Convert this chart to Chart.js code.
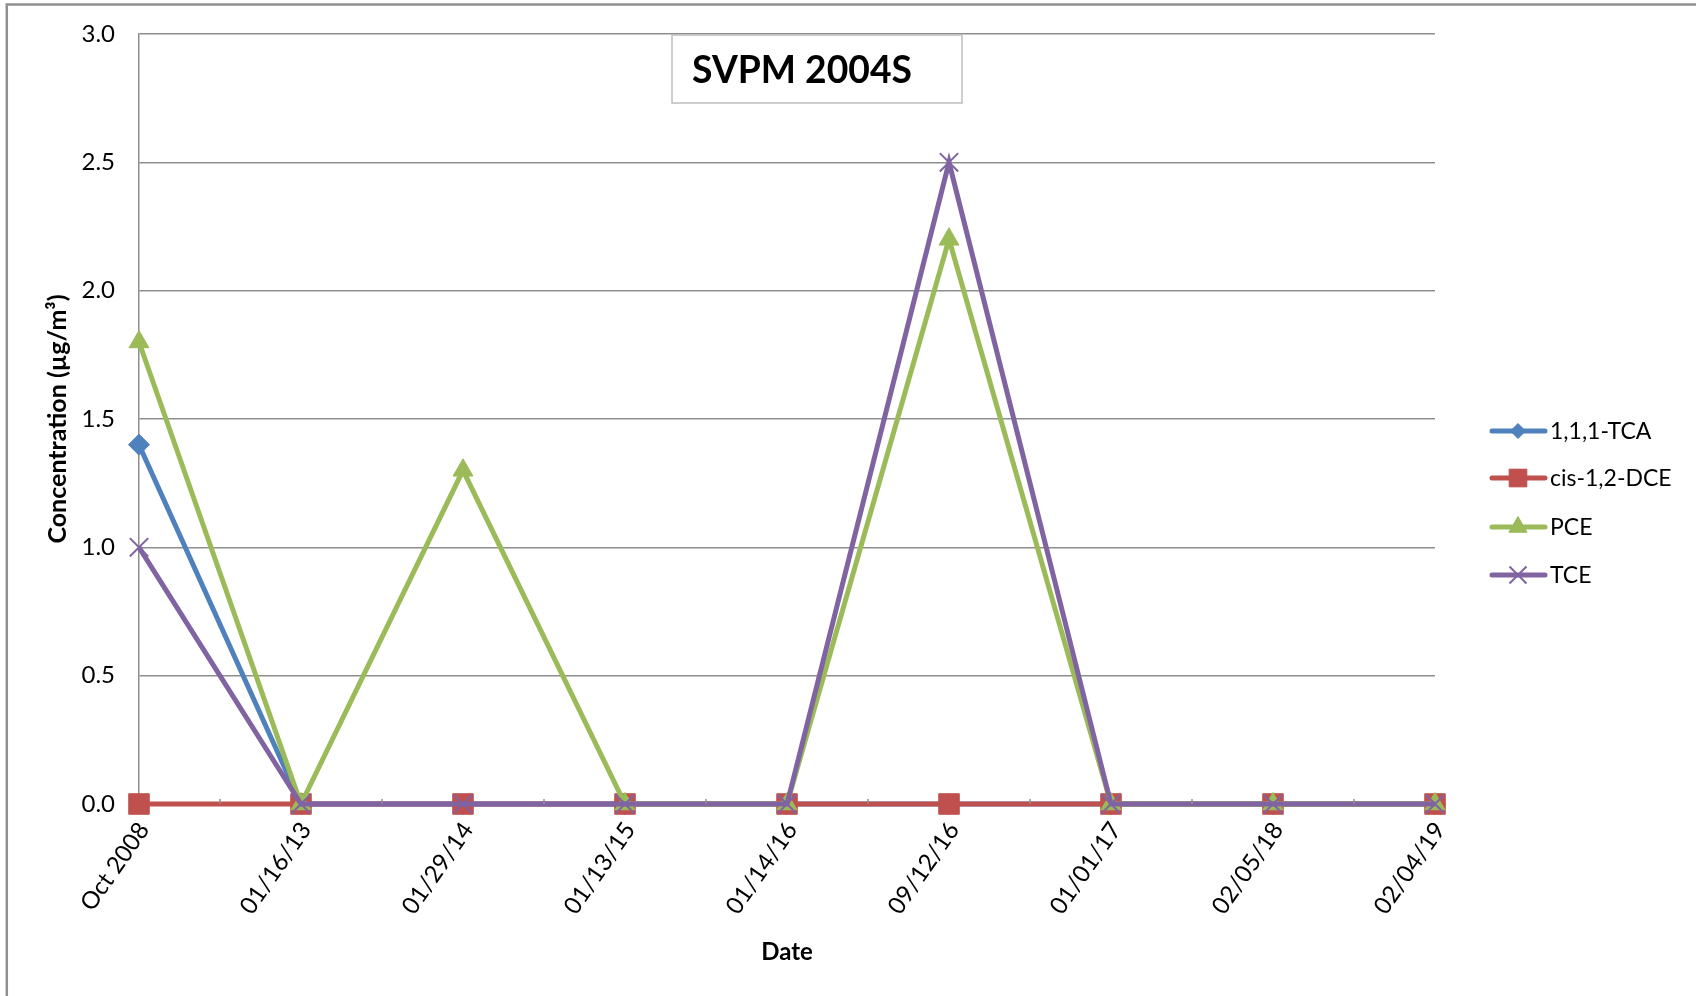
<!DOCTYPE html>
<html><head><meta charset="utf-8">
<script src="https://cdn.jsdelivr.net/npm/chart.js@4"></script>
<style>html,body{margin:0;padding:0;background:#fff;overflow:hidden}#wrap{width:1696px;height:996px;position:relative}</style>
</head><body><div id="wrap"><canvas id="c" width="1696" height="996"></canvas></div>
<script>
const categories = ['Oct 2008','01/16/13','01/29/14','01/13/15','01/14/16','09/12/16','01/01/17','02/05/18','02/04/19'];
const tcaValues = [1.4, 0, 0, 0, 0, 0, 0, 0, 0];
const dceValues = [0, 0, 0, 0, 0, 0, 0, 0, 0];
const pceValues = [1.8, 0, 1.3, 0, 0, 2.2, 0, 0, 0];
const tceValues = [1.0, 0, 0, 0, 0, 2.5, 0, 0, 0];
const yTickValues = [0, 0.5, 1.0, 1.5, 2.0, 2.5, 3.0];
const seriesNames = ['1,1,1-TCA', 'cis-1,2-DCE', 'PCE', 'TCE'];
const chartTitle = 'SVPM 2004S';
const xTitle = 'Date';
const yTitle = 'Concentration (µg/m³)';

const FONT = 'Lato';
const colors = ['#4F81BD', '#C0504D', '#9BBB59', '#8064A2'];
const styles = [
  {pointStyle:'rectRot', radius:10.5, bw:1},
  {pointStyle:'rect', radius:14.5, bw:1},
  {pointStyle:'triangle', radius:11.5, bw:1},
  {pointStyle:'crossRot', radius:13, bw:2}
];
const legendStyles = [
  {pointStyle:'rectRot', radius:7.5, bw:1},
  {pointStyle:'rect', radius:12.5, bw:1},
  {pointStyle:'triangle', radius:10.5, bw:1},
  {pointStyle:'crossRot', radius:12, bw:2}
];
const seriesData = [tcaValues, dceValues, pceValues, tceValues];

const datasets = seriesData.map((d, i) => ({
  label: seriesNames[i],
  data: d,
  borderColor: colors[i],
  backgroundColor: colors[i],
  borderWidth: 5,
  pointStyle: styles[i].pointStyle,
  pointRadius: styles[i].radius,
  pointHoverRadius: styles[i].radius,
  pointBorderWidth: styles[i].bw,
  pointBackgroundColor: colors[i],
  pointBorderColor: colors[i],
  tension: 0,
  clip: false,
  order: 4 - i
}));

const decor = {
  id: 'decor',
  beforeDraw(chart) {
    const ctx = chart.ctx;
    ctx.save();
    ctx.fillStyle = '#fff';
    ctx.fillRect(0, 0, chart.width, chart.height);
    ctx.strokeStyle = '#8f8f8f';
    ctx.lineWidth = 2.5;
    ctx.beginPath();
    ctx.moveTo(6.8, chart.height); ctx.lineTo(6.8, 4.5); ctx.lineTo(chart.width, 4.5);
    ctx.stroke();
    ctx.restore();
  },
  afterDatasetsDraw(chart) {
    const ctx = chart.ctx, xs = chart.scales.x, yb = chart.chartArea.bottom;
    ctx.save();
    ctx.strokeStyle = '#8e8e8e';
    ctx.lineWidth = 1.5;
    for (let i = 0; i < categories.length - 1; i++) {
      const xm = (xs.getPixelForValue(i) + xs.getPixelForValue(i + 1)) / 2;
      ctx.beginPath(); ctx.moveTo(xm, yb); ctx.lineTo(xm, yb - 5); ctx.stroke();
    }
    ctx.restore();
  },
  afterDraw(chart) {
    const ctx = chart.ctx;
    ctx.save();
    const bx = 672, by = 35, bw = 290, bh = 68;
    ctx.fillStyle = '#fff';
    ctx.fillRect(bx, by, bw, bh);
    ctx.strokeStyle = '#bdbdbd';
    ctx.lineWidth = 1.5;
    ctx.strokeRect(bx, by, bw, bh);
    let fs = 40;
    ctx.font = `bold ${fs}px ${FONT}`;
    const w = ctx.measureText(chartTitle).width;
    fs = fs * 220 / w;
    ctx.font = `bold ${fs}px ${FONT}`;
    ctx.fillStyle = '#000';
    ctx.textAlign = 'left';
    ctx.textBaseline = 'alphabetic';
    ctx.fillText(chartTitle, 692, 83);
    const ly = [431, 478, 527, 575];
    for (let i = 0; i < seriesNames.length; i++) {
      const y = ly[i];
      ctx.strokeStyle = colors[i];
      ctx.lineWidth = 5;
      ctx.lineCap = 'round';
      ctx.beginPath(); ctx.moveTo(1492, y); ctx.lineTo(1545, y); ctx.stroke();
      ctx.lineCap = 'butt';
      ctx.fillStyle = colors[i];
      ctx.strokeStyle = colors[i];
      ctx.lineWidth = legendStyles[i].bw;
      Chart.helpers.drawPoint(ctx, {pointStyle: legendStyles[i].pointStyle, radius: legendStyles[i].radius, rotation: 0, borderWidth: legendStyles[i].bw}, 1518, y);
      ctx.fillStyle = '#000';
      ctx.font = `23px ${FONT}`;
      ctx.textAlign = 'left';
      ctx.textBaseline = 'middle';
      ctx.fillText(seriesNames[i], 1550, y + 1);
    }
    ctx.restore();
  }
};

new Chart(document.getElementById('c'), {
  type: 'line',
  data: { labels: categories, datasets },
  options: {
    responsive: false,
    animation: false,
    devicePixelRatio: 1,
    layout: { autoPadding: false, padding: { top: 34, right: 261, left: 0, bottom: 0 } },
    plugins: { legend: { display: false }, tooltip: { enabled: false }, title: { display: false } },
    scales: {
      x: {
        offset: false,
        grid: { display: false, drawTicks: false },
        border: { display: true, color: '#8e8e8e', width: 1.5 },
        ticks: { color: '#000', font: { family: FONT, size: 24 }, minRotation: 55, maxRotation: 55, padding: 13, labelOffset: 5, autoSkip: false },
        title: { display: true, text: xTitle, color: '#000', font: { family: FONT, size: 24, weight: 'bold' }, padding: { top: 0, bottom: 29 } },
        afterFit(s) { s.height = 192; }
      },
      y: {
        min: 0, max: 3,
        afterBuildTicks(s) { s.ticks = yTickValues.map(v => ({ value: v })); },
        grid: { color: '#8e8e8e', lineWidth: 1.5, drawTicks: false },
        border: { display: true, color: '#8e8e8e', width: 1.5 },
        ticks: { color: '#000', font: { family: FONT, size: 24, lineHeight: 0.6 }, padding: 24, callback: v => Number(v).toFixed(1) },
        title: { display: true, text: yTitle, color: '#000', font: { family: FONT, size: 25, weight: 'bold' }, padding: { top: 43, bottom: 0 } },
        afterFit(s) { s.width = 139; }
      }
    }
  },
  plugins: [decor]
});
</script>
</body></html>
